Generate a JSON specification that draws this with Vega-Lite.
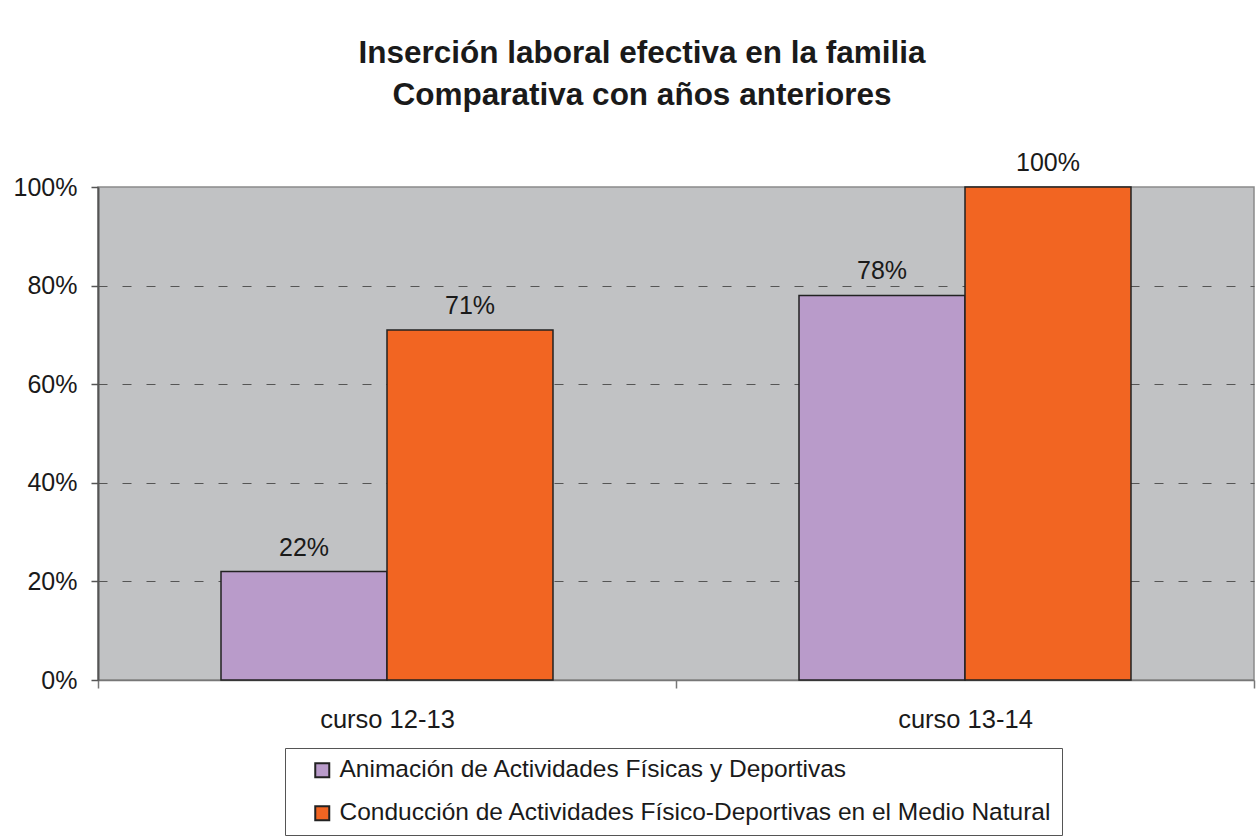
{
  "$schema": "https://vega.github.io/schema/vega-lite/v6.json",
  "autosize": "none",
  "width": 1156,
  "height": 493,
  "padding": {"left": 98, "top": 187, "right": 3, "bottom": 160},
  "background": "white",
  "title": {
    "text": ["Inserción laboral efectiva en la familia", "Comparativa con años anteriores"],
    "font": "Liberation Sans",
    "fontSize": 31.5,
    "fontWeight": "bold",
    "color": "#1a1a1a",
    "anchor": "middle",
    "frame": "group",
    "dx": -34,
    "lineHeight": 42,
    "offset": 40
  },
  "config": {
    "view": {"fill": "#C1C2C4", "stroke": "#8a8a8a", "strokeWidth": 1.5},
    "font": "Liberation Sans"
  },
  "data": {
    "values": [
      {"curso": "curso 12-13", "ciclo": "Animación de Actividades Físicas y Deportivas", "valor": 0.22},
      {"curso": "curso 12-13", "ciclo": "Conducción de Actividades Físico-Deportivas en el Medio Natural", "valor": 0.71},
      {"curso": "curso 13-14", "ciclo": "Animación de Actividades Físicas y Deportivas", "valor": 0.78},
      {"curso": "curso 13-14", "ciclo": "Conducción de Actividades Físico-Deportivas en el Medio Natural", "valor": 1.0}
    ]
  },
  "encoding": {
    "x": {
      "field": "curso", "type": "nominal",
      "scale": {"paddingInner": 0, "paddingOuter": 0},
      "axis": {
        "title": null, "labelAngle": 0, "labelFontSize": 25.5, "labelColor": "#1a1a1a",
        "labelPadding": 19, "tickBand": "extent", "tickSize": 8, "tickColor": "#777",
        "domainColor": "#777", "domainWidth": 1.5, "tickWidth": 1.5
      }
    },
    "xOffset": {
      "field": "ciclo", "type": "nominal",
      "scale": {"paddingInner": 0, "paddingOuter": 0.741}
    },
    "y": {
      "field": "valor", "type": "quantitative",
      "scale": {"domain": [0, 1], "nice": false},
      "axis": {
        "title": null, "format": "%", "values": [0, 0.2, 0.4, 0.6, 0.8, 1],
        "labelFontSize": 25, "labelColor": "#1a1a1a", "labelPadding": 14,
        "tickSize": 7, "tickColor": "#555", "tickWidth": 1.5,
        "domainColor": "#555", "domainWidth": 2,
        "grid": true, "gridColor": "#555", "gridDash": [9, 15], "gridWidth": 1.2,
        "gridOpacity": {"condition": {"test": "datum.value == 0 || datum.value == 1", "value": 0}, "value": 1}
      }
    }
  },
  "layer": [
    {
      "mark": {"type": "bar", "stroke": "#222", "strokeWidth": 1.5},
      "encoding": {
        "color": {
          "field": "ciclo", "type": "nominal",
          "scale": {"range": ["#B99BCA", "#F26522"]},
          "legend": {
            "title": null, "orient": "none", "legendX": 187, "legendY": 561,
            "direction": "vertical",
            "labelFontSize": 24.5, "labelColor": "#1a1a1a", "labelLimit": 1000,
            "symbolType": "square", "symbolSize": 196, "symbolStrokeColor": "#222",
            "symbolStrokeWidth": 2, "symbolOpacity": 1, "symbolOffset": 15,
            "rowPadding": 18, "labelOffset": 5,
            "padding": 10, "strokeColor": "#555", "fillColor": "white"
          }
        }
      }
    },
    {
      "mark": {"type": "text", "baseline": "bottom", "dy": -11, "fontSize": 25, "color": "#1a1a1a"},
      "encoding": {
        "text": {"field": "valor", "type": "quantitative", "format": ".0%"}
      }
    }
  ]
}
